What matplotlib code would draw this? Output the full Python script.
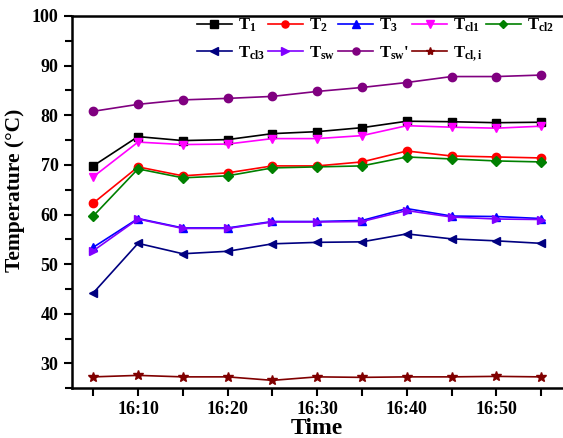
import matplotlib
matplotlib.use("Agg")
import matplotlib.pyplot as plt
from matplotlib.ticker import MultipleLocator

plt.rcParams['font.family'] = ['Liberation Serif', 'DejaVu Serif']
plt.rcParams['font.weight'] = 'bold'
plt.rcParams['mathtext.fontset'] = 'custom'
plt.rcParams['mathtext.rm'] = 'Liberation Serif:bold'
plt.rcParams['mathtext.it'] = 'Liberation Serif:bold'
plt.rcParams['mathtext.bf'] = 'Liberation Serif:bold'
plt.rcParams['mathtext.default'] = 'rm'

# minutes past 16:00
minutes = [5, 10, 15, 20, 25, 30, 35, 40, 45, 50, 55]
tick_minutes = [10, 20, 30, 40, 50]
tick_labels = ['16:10', '16:20', '16:30', '16:40', '16:50']

T1 = [69.8, 75.7, 74.9, 75.1, 76.3, 76.7, 77.5, 78.8, 78.7, 78.5, 78.6]
T2 = [62.3, 69.6, 67.8, 68.4, 69.8, 69.8, 70.6, 72.8, 71.8, 71.6, 71.4]
T3 = [53.4, 59.2, 57.3, 57.3, 58.6, 58.6, 58.8, 61.2, 59.7, 59.6, 59.2]
Tcl1 = [67.6, 74.6, 74.1, 74.2, 75.3, 75.3, 75.9, 77.9, 77.6, 77.4, 77.8]
Tcl2 = [59.7, 69.2, 67.4, 67.8, 69.4, 69.6, 69.8, 71.6, 71.2, 70.8, 70.6]
Tcl3 = [44.2, 54.2, 52.1, 52.6, 54.1, 54.4, 54.5, 56.1, 55.1, 54.7, 54.2]
Tsw = [52.7, 59.1, 57.2, 57.2, 58.5, 58.5, 58.6, 60.8, 59.5, 59.1, 59.0]
Tsw2 = [80.8, 82.2, 83.1, 83.4, 83.8, 84.8, 85.6, 86.6, 87.8, 87.8, 88.1]
Tcli = [27.3, 27.6, 27.3, 27.3, 26.6, 27.3, 27.2, 27.3, 27.3, 27.4, 27.3]

fig = plt.figure(figsize=(5.63, 4.38), dpi=100)
ax = fig.add_axes([0.1274, 0.1135, 0.872, 0.85])

kw = dict(lw=1.2, ms=6)
h1, = ax.plot(minutes, T1, color='black', marker='s', label=r'$T_{1}$', **kw)
h2, = ax.plot(minutes, T2, color='red', marker='o', label=r'$T_{2}$', **kw)
h3, = ax.plot(minutes, T3, color='blue', marker='^', label=r'$T_{3}$', **kw)
h4, = ax.plot(minutes, Tcl1, color='#ff00ff', marker='v', label=r'$T_{cl1}$', **kw)
h5, = ax.plot(minutes, Tcl2, color='#008000', marker='D', label=r'$T_{cl2}$', lw=1.2, ms=5)
h6, = ax.plot(minutes, Tcl3, color='#000080', marker='<', label=r'$T_{cl3}$', **kw)
h7, = ax.plot(minutes, Tsw, color='#8000ff', marker='>', label=r'$T_{sw}$', **kw)
h8, = ax.plot(minutes, Tsw2, color='#800080', marker='o', label=r"$T_{sw}$'", **kw)
h9, = ax.plot(minutes, Tcli, color='#800000', marker='*', label=r'$T_{cl,i}$', lw=1.2, ms=7)

# row-wise order for a 5-column legend
handles = [h1, h6, h2, h7, h3, h8, h4, h9, h5]
ax.legend(handles=handles, ncol=5, frameon=False, loc='upper right',
          bbox_to_anchor=(0.982, 0.998), fontsize=12, handlelength=2.1,
          columnspacing=0.2, handletextpad=0.35, labelspacing=0.6,
          borderpad=0, borderaxespad=0, markerscale=0.85)

ax.set_xlim(2.6, 57.4)
ax.set_ylim(25, 100)
ax.set_xticks(tick_minutes)
ax.set_xticklabels(tick_labels)
ax.xaxis.set_minor_locator(MultipleLocator(5))
ax.yaxis.set_major_locator(MultipleLocator(10))
ax.yaxis.set_minor_locator(MultipleLocator(5))
ax.tick_params(which='both', direction='out', width=1.5, labelsize=13)
ax.tick_params(which='major', length=6)
ax.tick_params(which='minor', length=5)
ax.tick_params(axis='x', which='minor', length=6)
for s in ['left', 'bottom', 'top']:
    ax.spines[s].set_linewidth(1.8)
ax.spines['right'].set_visible(False)

ax.set_xlabel('Time', fontsize=17, fontweight='bold', labelpad=0)
ax.set_ylabel('Temperature (\u00b0C)', fontsize=15.5, fontweight='bold')
ax.yaxis.set_label_coords(-0.095, 0.533)

fig.savefig('out.png', dpi=100)
